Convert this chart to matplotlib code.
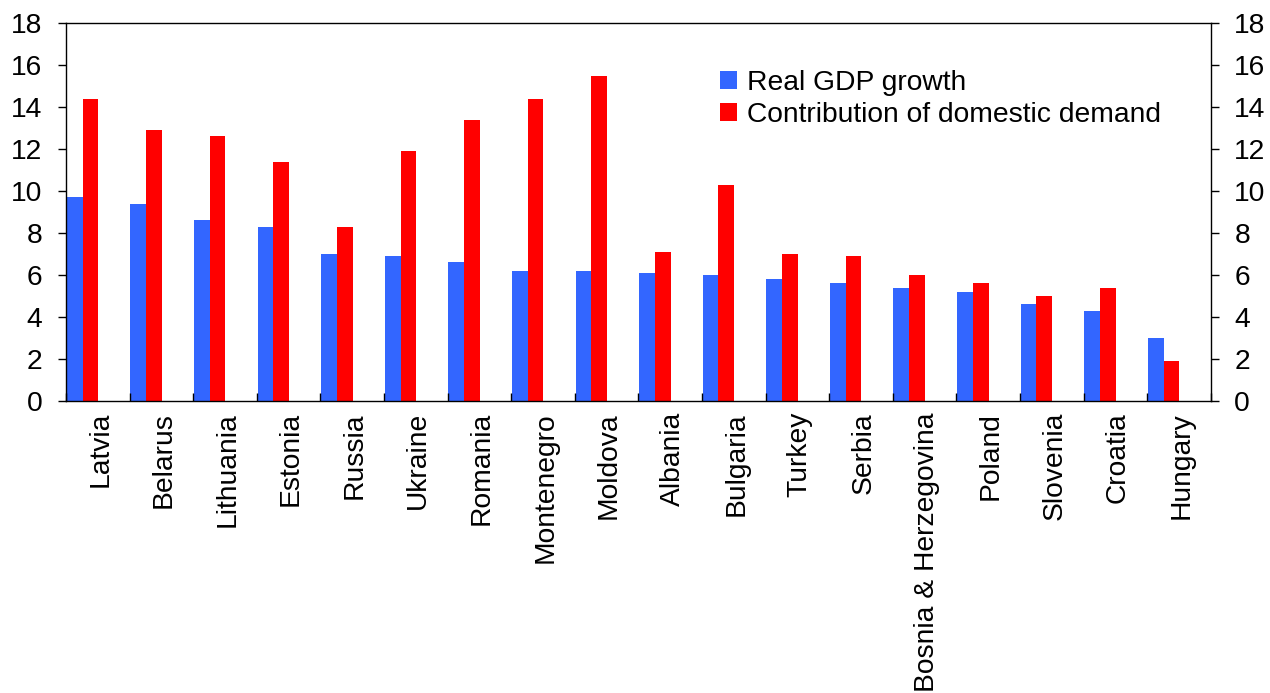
import matplotlib
matplotlib.use("Agg")
import matplotlib.pyplot as plt
import matplotlib.transforms as mtransforms
import numpy as np

countries = ["Latvia", "Belarus", "Lithuania", "Estonia", "Russia", "Ukraine",
             "Romania", "Montenegro", "Moldova", "Albania", "Bulgaria", "Turkey",
             "Serbia", "Bosnia & Herzegovina", "Poland", "Slovenia", "Croatia",
             "Hungary"]
gdp_growth = [9.7, 9.4, 8.6, 8.3, 7.0, 6.9, 6.6, 6.2, 6.2, 6.1, 6.0, 5.8,
              5.6, 5.4, 5.2, 4.6, 4.3, 3.0]
domestic_demand = [14.4, 12.9, 12.6, 11.4, 8.3, 11.9, 13.4, 14.4, 15.5, 7.1,
                   10.3, 7.0, 6.9, 6.0, 5.6, 5.0, 5.4, 1.9]
y_ticks = list(range(0, 19, 2))

BLUE = "#3366FF"
RED = "#FF0000"
FONT = "Liberation Sans"
FS = 20.3

plt.rcParams["font.family"] = [FONT, "DejaVu Sans"]

fig = plt.figure(figsize=(12.7, 6.93), dpi=100)
ax = fig.add_axes([66 / 1270, 1 - 401 / 693, (1210.7 - 66) / 1270, (401 - 23) / 693])

x = np.arange(len(countries))
w = 0.248
off = 0.012
ax.bar(x + off, gdp_growth, width=w, align="edge", color=BLUE, label="Real GDP growth")
ax.bar(x + off + w, domestic_demand, width=w, align="edge", color=RED,
       label="Contribution of domestic demand")

ax.set_xlim(0, len(countries))
ax.set_ylim(0, 18)
ax.set_yticks(y_ticks)
ax.set_yticklabels([str(v) for v in y_ticks], fontsize=FS)

# category labels at group centres, tick marks at group boundaries
ax.set_xticks(x + 0.5)
ax.set_xticklabels(countries, rotation=90, fontsize=FS, va="top", ha="center")
ax.tick_params(axis="x", which="major", length=0, pad=8)
shift = mtransforms.ScaledTranslation(2.5 / 100, 0, fig.dpi_scale_trans)
for lbl in ax.get_xticklabels():
    lbl.set_transform(lbl.get_transform() + shift)
ax.set_xticks(np.arange(len(countries) + 1), minor=True)
ax.tick_params(axis="x", which="minor", direction="in", length=6, width=1, color="black")

ax.tick_params(axis="y", which="major", direction="out", length=6, width=1,
               left=True, right=True, labelleft=True, labelright=True, pad=11)

for s in ax.spines.values():
    s.set_linewidth(1.0)
    s.set_color("black")

fig.legend(loc="upper left", bbox_to_anchor=(720 / 1270, 1 - 70 / 693),
           frameon=False, fontsize=FS, handlelength=0.6, handleheight=0.6,
           handletextpad=0.35, labelspacing=0.22, borderpad=0, borderaxespad=0)

fig.savefig("out.png", dpi=100)
